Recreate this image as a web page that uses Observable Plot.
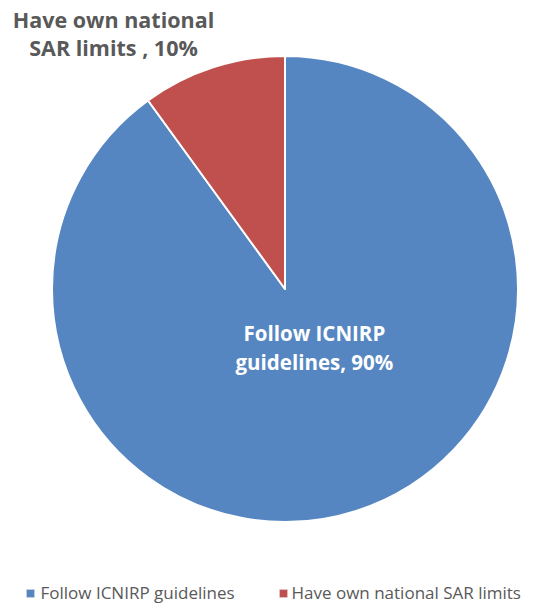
<!DOCTYPE html>
<html>
<head>
<meta charset="utf-8">
<script src="https://cdn.jsdelivr.net/npm/d3@7"></script>
<script src="https://cdn.jsdelivr.net/npm/@observablehq/plot@0.6"></script>
<style>
  html, body { margin: 0; padding: 0; background: #fff; }
  #chart { width: 546px; height: 607px; }
</style>
</head>
<body>
<div id="chart"></div>
<script>
// ---- data ----
const categories = ["Follow ICNIRP guidelines", "Have own national SAR limits"];
const shares = [90, 10];
const sliceLabels = [["Follow ICNIRP", "guidelines, 90%"], ["Have own national", "SAR limits , 10%"]];
const colors = ["#5586C1", "#C0504D"];

const W = 546, H = 607;
const cx = 285, cy = 289, R = 233;

const rows = categories.map((c, i) => ({ category: c, value: shares[i], label: sliceLabels[i].join("\n") }));
const arcs = d3.pie().sort(null).value(d => d.value)(rows);

// label placement (relative to radius, in data units)
const labelPos = [
  { x: 0.124, y: -0.245, fill: "#ffffff" },
  { x: -0.738, y: 1.1, fill: "#595959" }
];
const labelRows = rows.map((d, i) => ({ ...d, ...labelPos[i] }));

// legend rows
const legendRows = [
  { category: categories[0], lx: 30, tx: 40 },
  { category: categories[1], lx: 283, tx: 291 }
];

const pieMark = (index, scales, values, dims, context) => {
  const g = d3.create("svg:g");
  const x0 = scales.x(0), y0 = scales.y(0);
  const r = Math.abs(scales.x(1) - scales.x(0));
  const arc = d3.arc().innerRadius(0).outerRadius(r);
  g.attr("transform", `translate(${x0},${y0})`)
    .selectAll("path")
    .data(arcs)
    .join("path")
    .attr("d", arc)
    .attr("fill", d => scales.color(d.data.category))
    .attr("stroke", "#ffffff")
    .attr("stroke-width", 2)
    .attr("stroke-linejoin", "round");
  return g.node();
};

const chart = Plot.plot({
  width: W,
  height: H,
  margin: 0,
  x: { domain: [-1, 1], range: [cx - R, cx + R], axis: null },
  y: { domain: [-1, 1], range: [cy + R, cy - R], axis: null },
  color: { domain: categories, range: colors },
  style: { fontFamily: "'Open Sans', sans-serif", background: "#fff" },
  marks: [
    pieMark,
    Plot.text(labelRows, {
      x: "x", y: "y", text: "label",
      fill: d => d.fill,
      fontSize: 20.5, fontWeight: "bold",
      lineHeight: 1.42,
      filter: (d, i) => i === 0
    }),
    Plot.text(labelRows, {
      x: "x", y: "y", text: "label",
      fill: d => d.fill,
      fontSize: 21.5, fontWeight: "bold",
      lineHeight: 1.3,
      filter: (d, i) => i === 1
    }),
    // legend
    Plot.dot(legendRows, {
      x: d => (d.lx - cx) / R, y: () => (cy - 593) / R,
      symbol: "square", r: 4.5, fill: d => d.category, stroke: "#d9d9d9", strokeWidth: 0.5
    }),
    Plot.text(legendRows, {
      x: d => (d.tx - cx) / R, y: () => (cy - 593) / R,
      text: "category", textAnchor: "start", fill: "#595959", fontSize: 17
    })
  ]
});
document.getElementById("chart").append(chart);
</script>
</body>
</html>
